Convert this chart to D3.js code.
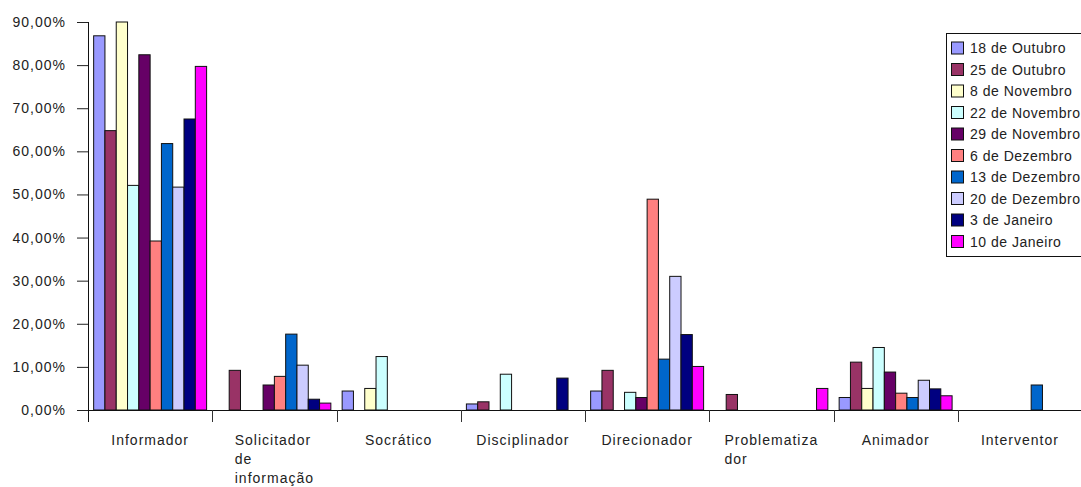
<!DOCTYPE html>
<html><head><meta charset="utf-8">
<script src="https://cdn.jsdelivr.net/npm/d3@7"></script>
<style>body{margin:0;background:#fff}svg{display:block}text{font-family:"Liberation Sans",Arial,sans-serif;fill:#222}</style>
</head><body><svg id="c" width="1081" height="487"></svg>
<script>
const categories = [["Informador"],["Solicitador","de","informação"],["Socrático"],["Disciplinador"],["Direcionador"],["Problematiza","dor"],["Animador"],["Interventor"]];
const seriesNames = ["18 de Outubro","25 de Outubro","8 de Novembro","22 de Novembro","29 de Novembro","6 de Dezembro","13 de Dezembro","20 de Dezembro","3 de Janeiro","10 de Janeiro"];
const seriesColors = ["#9999FF","#993366","#FFFFCC","#CCFFFF","#660066","#FF8080","#0066CC","#CCCCFF","#000080","#FF00FF"];
// values in %, per series, across categories
const s18Out = [86.8, 0,    4.4,  1.4, 4.4,  0,   2.9,  0];
const s25Out = [64.8, 9.2,  0,    1.9, 9.2,  3.6, 11.1, 0];
const s8Nov  = [90.0, 0,    5.0,  0,   0,    0,   5.0,  0];
const s22Nov = [52.1, 0,    12.4, 8.3, 4.1,  0,   14.5, 0];
const s29Nov = [82.4, 5.8,  0,    0,   2.9,  0,   8.8,  0];
const s6Dez  = [39.2, 7.8,  0,    0,   48.9, 0,   3.9,  0];
const s13Dez = [61.8, 17.6, 0,    0,   11.8, 0,   2.9,  5.8];
const s20Dez = [51.7, 10.4, 0,    0,   31.0, 0,   6.9,  0];
const s3Jan  = [67.5, 2.5,  0,    7.4, 17.5, 0,   4.9,  0];
const s10Jan = [79.7, 1.6,  0,    0,   10.1, 5.0, 3.3,  0];
const yTicks = [0,10,20,30,40,50,60,70,80,90];

const series = [s18Out,s25Out,s8Nov,s22Nov,s29Nov,s6Dez,s13Dez,s20Dez,s3Jan,s10Jan];
const svg = d3.select("#c");
const x0 = 88, x1 = 1082, yTop = 22, yBot = 410;
const x = d3.scaleBand().domain(d3.range(categories.length)).range([x0,x1]);
const y = d3.scaleLinear().domain([0,90]).range([yBot,yTop]);
const bw = x.bandwidth()/11;
const xi = d3.scaleBand().domain(d3.range(series.length)).range([bw/2, x.bandwidth()-bw/2]);

// bars
series.forEach((vals,si)=>{
  const data = vals.map((v,ci)=>({v,ci})).filter(d=>d.v>0);
  svg.append("g").selectAll("rect").data(data).join("rect")
    .attr("x",d=>x(d.ci)+xi(si))
    .attr("y",d=>y(d.v))
    .attr("width",xi.bandwidth())
    .attr("height",d=>yBot-y(d.v))
    .attr("fill",seriesColors[si])
    .attr("stroke","#111").attr("stroke-width",1);
});

// y axis
const yAxis = d3.axisLeft(y).tickValues(yTicks).tickSize(11).tickFormat(d=>d3.format(".2f")(d).replace(".",",")+"%");
const gy = svg.append("g").attr("transform",`translate(${x0},0)`).call(yAxis);
gy.select(".domain").remove();
gy.selectAll(".tick line").attr("stroke","#222");
gy.selectAll(".tick text").attr("x",-22).attr("font-size",14).attr("letter-spacing","1px").attr("font-family","Liberation Sans").attr("fill","#222");
svg.append("line").attr("x1",x0+0.5).attr("x2",x0+0.5).attr("y1",yTop).attr("y2",yBot+12).attr("stroke","#111");

// x axis
svg.append("line").attr("x1",x0).attr("x2",1081).attr("y1",yBot+0.5).attr("y2",yBot+0.5).attr("stroke","#111");
svg.append("g").selectAll("line").data(d3.range(1,categories.length+1)).join("line")
  .attr("x1",i=>Math.round(x0+i*x.step())+0.5).attr("x2",i=>Math.round(x0+i*x.step())+0.5)
  .attr("y1",yBot).attr("y2",yBot+12).attr("stroke","#333");

// category labels
categories.forEach((lines,i)=>{
  const g = svg.append("g");
  const t = g.append("text").attr("font-size",14).attr("letter-spacing","1px");
  lines.forEach((l,k)=>t.append("tspan").attr("x",0).attr("y",445+k*19).text(l));
  const bb = t.node().getBBox();
  const cx = x(i)+x.bandwidth()/2;
  t.attr("transform",`translate(${cx-bb.width/2},0)`);
});

// legend
const lg = svg.append("g");
lg.append("rect").attr("x",946.5).attr("y",33.5).attr("width",140).attr("height",223).attr("fill","#fff").attr("stroke","#111");
seriesNames.forEach((n,i)=>{
  const cy = 48 + i*21.5;
  lg.append("rect").attr("x",951.5).attr("y",cy-6).attr("width",12).attr("height",12).attr("fill",seriesColors[i]).attr("stroke","#111");
  lg.append("text").attr("x",970).attr("y",cy+5).attr("font-size",14).attr("letter-spacing","0.5px").text(n);
});
</script></body></html>
